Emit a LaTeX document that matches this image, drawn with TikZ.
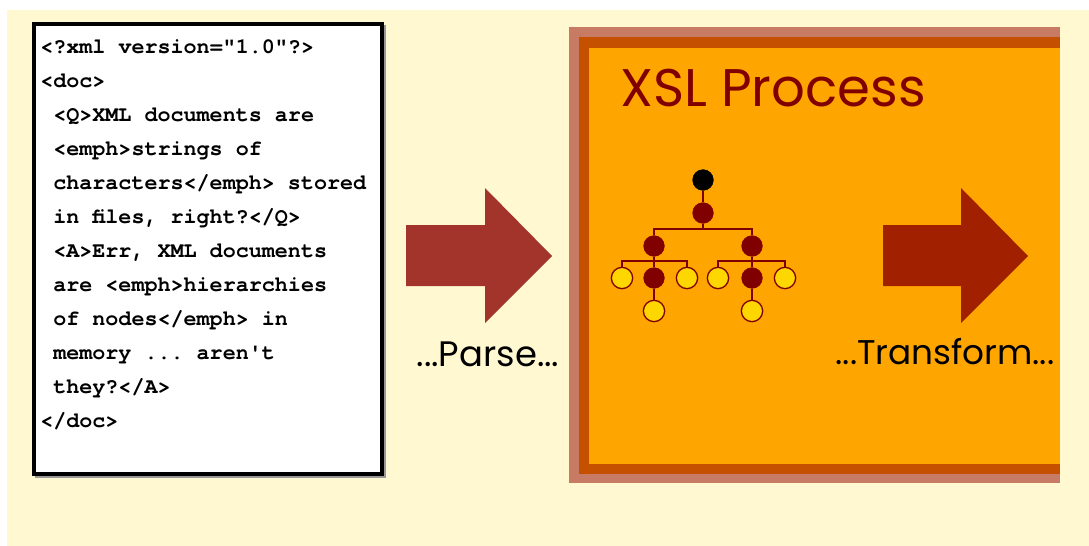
\documentclass[tikz,border=0pt]{standalone}
\usepackage{fontspec}
\usepackage{graphicx}
\setmonofont{TeX Gyre Cursor}
\newfontfamily\comicfont{Poppins}
\definecolor{cream}{HTML}{FFF8D0}
\definecolor{bandout}{HTML}{C77B65}
\definecolor{bandin}{HTML}{C45000}
\definecolor{inner}{HTML}{FFA500}
\definecolor{parsecol}{HTML}{A3342C}
\definecolor{transcol}{HTML}{A02000}
\definecolor{treered}{HTML}{800000}
\definecolor{treeyel}{HTML}{FFD700}
\begin{document}
\begin{tikzpicture}[x=0.75pt,y=-0.75pt,
  codeline/.style={anchor=base west,inner sep=0pt,text=black,font=\ttfamily\bfseries\fontsize{16.3pt}{18pt}\selectfont},
  rednode/.style={circle,fill=treered,draw=treered,minimum size=15.5pt,inner sep=0pt},
  blacknode/.style={circle,fill=black,draw=black,minimum size=15.5pt,inner sep=0pt},
  yelnode/.style={circle,fill=treeyel,draw=treered,line width=1pt,minimum size=16pt,inner sep=0pt},
  edge/.style={draw=treered,line width=1.3pt},
  comic/.style={inner sep=0pt,font=\comicfont}]
\useasboundingbox (0,0) rectangle (1089,546);
\fill[white] (0,0) rectangle (1089,546);
\fill[cream] (7,10) rectangle (1089,546);
% code box
\draw[black!40,line width=2pt] (36,26) rectangle (385,477);
\draw[black,line width=3pt,fill=white] (34,24) rectangle (382,474);
\node[codeline] (l1) at (40,53) {<?xml version="1.0"?>};
\node[codeline] (l2) at (40,87) {<doc>};
\node[codeline] (l3) at (53,121) {<Q>XML documents are};
\node[codeline] (l4) at (53,155) {<emph>strings of};
\node[codeline] (l5) at (53,189) {characters</emph> stored};
\node[codeline] (l6) at (53,223) {in files, right?</Q>};
\node[codeline] (l7) at (53,257) {<A>Err, XML documents};
\node[codeline] (l8) at (53,291) {are <emph>hierarchies};
\node[codeline] (l9) at (53,325) {of nodes</emph> in};
\node[codeline] (l10) at (53,359) {memory ... aren't};
\node[codeline] (l11) at (53,393) {they?</A>};
\node[codeline] (l12) at (40,427) {</doc>};
% XSL box
\fill[bandout] (569,27) rectangle (1060,483);
\fill[bandin] (579,37) rectangle (1060,474);
\fill[inner] (589,48) rectangle (1060,464);
\node[comic,anchor=west,text=treered] (title) at (620,88) {\resizebox{229pt}{!}{XSL Process}};
% parse arrow
\fill[parsecol] (406,225) -- (485,225) -- (485,188) -- (552,256) -- (485,323) -- (485,286) -- (406,286) -- cycle;
\node[comic,text=black] (parse) at (488,354) {\resizebox{107pt}{!}{...Parse...}};
% transform arrow
\fill[transcol] (883,225) -- (961,225) -- (961,188) -- (1028,256) -- (961,323) -- (961,286) -- (883,286) -- cycle;
\node[comic,text=black] (transform) at (945,352) {\resizebox{164pt}{!}{...Transform...}};
% tree
\node[blacknode] (root) at (703,180) {};
\node[rednode] (n1) at (703,213) {};
\node[rednode] (a) at (654,246) {};
\node[rednode] (b) at (752,246) {};
\node[yelnode] (a1) at (622,278) {};
\node[rednode] (a2) at (654,278) {};
\node[yelnode] (a3) at (687,278) {};
\node[yelnode] (b1) at (718,278) {};
\node[rednode] (b2) at (752,278) {};
\node[yelnode] (b3) at (785,278) {};
\node[yelnode] (a4) at (654,311) {};
\node[yelnode] (b4) at (752,311) {};
\draw[edge] (root) -- (n1);
\draw[edge] (n1.south) -- (703,229) -| (a);
\draw[edge] (n1.south) -- (703,229) -| (b);
\draw[edge] (a) -- (a2);
\draw[edge] (a.south) -- (654,261) -| (a1);
\draw[edge] (a.south) -- (654,261) -| (a3);
\draw[edge] (a2) -- (a4);
\draw[edge] (b) -- (b2);
\draw[edge] (b.south) -- (752,261) -| (b1);
\draw[edge] (b.south) -- (752,261) -| (b3);
\draw[edge] (b2) -- (b4);
\end{tikzpicture}
\end{document}
